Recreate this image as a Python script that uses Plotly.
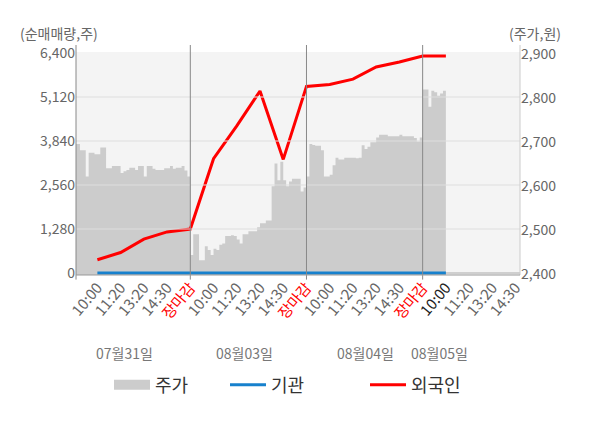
import plotly.graph_objects as go

# ---------------- data ----------------
tick_labels = ["10:00", "11:20", "13:20", "14:30", "장마감",
               "10:00", "11:20", "13:20", "14:30", "장마감",
               "10:00", "11:20", "13:20", "14:30", "장마감",
               "10:00", "11:20", "13:20", "14:30"]
date_labels = ["07월31일", "08월03일", "08월04일", "08월05일"]
date_label_pos = [2.15, 7.34, 12.52, 15.74]   # slot positions of the date captions

# price (주가, 원), sampled every 1/8 tick slot
price_d1 = [2696, 2696, 2682, 2682, 2622, 2676, 2676, 2673, 2673, 2688,
            2688, 2641, 2641, 2646, 2646, 2646, 2630, 2634, 2637, 2642,
            2642, 2637, 2646, 2646, 2622, 2646, 2646, 2640, 2637, 2637,
            2637, 2641, 2641, 2646, 2640, 2642, 2642, 2646, 2636, 2622]
price_d2 = [2444, 2491, 2491, 2432, 2432, 2464, 2455, 2444, 2458, 2455,
            2467, 2470, 2487, 2487, 2489, 2487, 2479, 2470, 2491, 2491,
            2498, 2498, 2498, 2507, 2516, 2516, 2522, 2522, 2600, 2652,
            2614, 2656, 2614, 2600, 2611, 2617, 2617, 2617, 2588, 2597]
price_d3 = [2622, 2696, 2694, 2692, 2692, 2682, 2622, 2622, 2626, 2648,
            2665, 2661, 2661, 2665, 2665, 2665, 2665, 2664, 2665, 2693,
            2685, 2690, 2700, 2700, 2711, 2717, 2717, 2717, 2714, 2714,
            2714, 2714, 2717, 2714, 2714, 2714, 2714, 2710, 2702, 2711]
price_d4 = [2820, 2820, 2781, 2817, 2814, 2806, 2811, 2817, 2817]

# net buying (순매매량, 주) at each tick slot
flow_slots = list(range(1, 17))
foreign = [387, 595, 985, 1195, 1280,
           3325, 4280, 5295, 3305, 5428,
           5487, 5640, 5993, 6138, 6312,
           6312]
institution = [0] * 16

flow_ticks = [0, 1280, 2560, 3840, 5120, 6400]
price_ticks = [2400, 2500, 2600, 2700, 2800, 2900]

# ---------------- figure ----------------
prices = price_d1 + price_d2 + price_d3 + price_d4
price_x = [i / 8 for i in range(len(prices))]

FONT = "Noto Sans CJK KR"
W, H = 600, 428
OFF = 8                      # page offset of the plot div
L, T = 76 - OFF, 45 - OFF
R = W - (520 - OFF)
B = H - (275 - OFF)
pw, ph = W - L - R, H - T - B

def px_x(p):
    return (p - OFF - L) / pw

def px_y(p):
    return (H - B - (p - OFF)) / ph

FLOW_RANGE = [-58, 6633]
PRICE_RANGE = [2398.4, 2921.1]

fig = go.Figure()
fig.add_trace(go.Scatter(
    x=price_x, y=prices, yaxis="y", mode="lines", line=dict(width=0, shape="hv"),
    fill="tozeroy", fillcolor="#cccccc", hoverinfo="skip", showlegend=False))
fig.add_trace(go.Scatter(
    x=[None], y=[None], yaxis="y", mode="lines", name="주가",
    line=dict(color="#cccccc", width=14), legend="legend"))
fig.add_trace(go.Scatter(
    x=flow_slots, y=institution, yaxis="y2", mode="lines", name="기관",
    line=dict(color="#1781cd", width=3), legend="legend2"))
fig.add_trace(go.Scatter(
    x=flow_slots, y=foreign, yaxis="y2", mode="lines", name="외국인",
    line=dict(color="#ff0000", width=3), legend="legend3"))

ticktext = []
for i, t in enumerate(tick_labels):
    if t == "장마감":
        ticktext.append('<span style="color:#ff0000">%s</span>' % t)
    elif i == 15:
        ticktext.append('<span style="color:#222222">%s</span>' % t)
    else:
        ticktext.append(t)

shapes = [dict(type="rect", xref="paper", yref="paper", x0=0, x1=1, y0=0, y1=px_y(52),
               fillcolor="#f4f4f4", line=dict(width=0), layer="below")]
shapes.append(dict(type="line", xref="paper", yref="y2", x0=0, x1=1, y0=0, y1=0,
                   line=dict(color="#aaaaaa", width=1), layer="below"))
for v in flow_ticks[1:-1]:
    shapes.append(dict(type="line", xref="paper", yref="y2", x0=0, x1=1, y0=v, y1=v,
                       line=dict(color="#dedede", width=1), layer="above"))
for s in (5, 10, 15):
    shapes.append(dict(type="line", xref="x", yref="paper", x0=s, x1=s, y0=-0.02, y1=1,
                       line=dict(color="#888888", width=1), layer="above"))
shapes.append(dict(type="line", xref="paper", yref="paper", x0=0, x1=0, y0=-0.02, y1=1,
                   line=dict(color="#888888", width=1)))
shapes.append(dict(type="line", xref="paper", yref="paper", x0=1, x1=1, y0=0, y1=1,
                   line=dict(color="#cccccc", width=1)))
shapes.append(dict(type="line", xref="paper", yref="paper", x0=0, x1=1, y0=0, y1=0,
                   line=dict(color="#999999", width=1)))

annotations = [
    dict(text="(순매매량,주)", xref="paper", yref="paper", x=px_x(18), y=px_y(33),
         xanchor="left", yanchor="middle", showarrow=False,
         font=dict(family=FONT, size=14, color="#666666")),
    dict(text="(주가,원)", xref="paper", yref="paper", x=px_x(563), y=px_y(33),
         xanchor="right", yanchor="middle", showarrow=False,
         font=dict(family=FONT, size=14, color="#666666")),
]
for lab, pos in zip(date_labels, date_label_pos):
    annotations.append(dict(text=lab, xref="x", yref="paper", x=pos, y=px_y(353),
                            xanchor="center", yanchor="middle", showarrow=False,
                            font=dict(family=FONT, size=14, color="#777777")))

leg_common = dict(orientation="h", yanchor="middle", xanchor="left", itemwidth=36,
                  font=dict(family=FONT, size=18, color="#333333"),
                  bgcolor="rgba(0,0,0,0)", borderwidth=0)

fig.update_layout(
    width=W, height=H,
    margin=dict(l=L, r=R, t=T, b=B),
    paper_bgcolor="white", plot_bgcolor="white",
    font=dict(family=FONT, color="#666666"),
    xaxis=dict(range=[0.08, 19.19], tickmode="array", tickvals=list(range(1, 20)),
               ticktext=ticktext, tickangle=-50, showgrid=False, zeroline=False,
               showline=False, ticks="", automargin=False,
               tickfont=dict(family=FONT, size=15, color="#666666")),
    yaxis=dict(range=PRICE_RANGE, side="right", tickmode="array",
               tickvals=price_ticks, ticktext=[f"{v:,}" for v in price_ticks],
               showgrid=False, zeroline=False, showline=False, ticks="", automargin=False,
               tickfont=dict(family=FONT, size=14, color="#666666")),
    yaxis2=dict(range=FLOW_RANGE, side="left", overlaying="y", tickmode="array",
                tickvals=flow_ticks, ticktext=[f"{v:,}" for v in flow_ticks],
                showgrid=False, zeroline=False, showline=False, ticks="", automargin=False,
                tickfont=dict(family=FONT, size=14, color="#666666")),
    legend=dict(x=px_x(109), y=px_y(385), **leg_common),
    legend2=dict(x=px_x(225), y=px_y(385), **leg_common),
    legend3=dict(x=px_x(365), y=px_y(385), **leg_common),
    shapes=shapes,
    annotations=annotations,
)

fig.write_html("out.html")
